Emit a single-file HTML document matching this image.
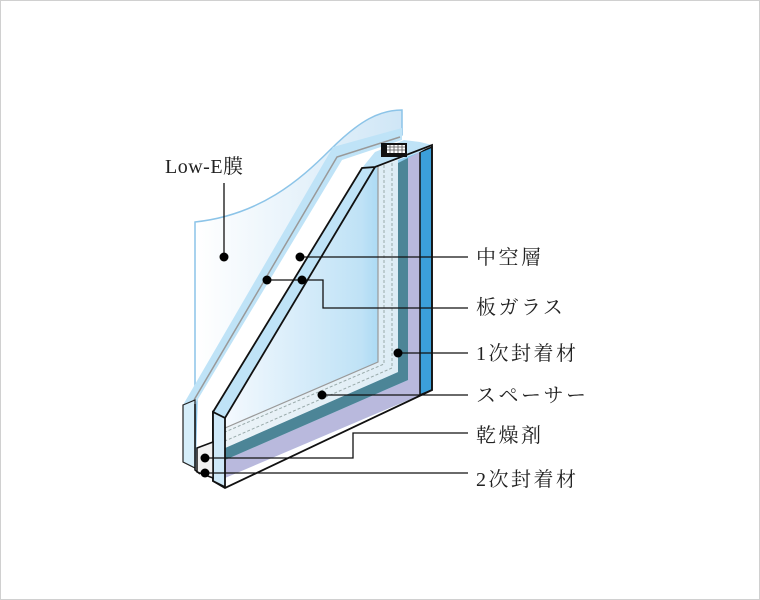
<!DOCTYPE html>
<html><head><meta charset="utf-8"><style>
body{margin:0;background:#fff}
.f{position:absolute;left:0;top:0;width:758px;height:598px;border:1px solid #d0d0d0}
svg{position:absolute;left:0;top:0}
text{font-family:"Liberation Serif","Noto Serif CJK SC",serif;font-size:20px;fill:#222;letter-spacing:2.5px}
</style></head><body>
<div class="f"></div>
<svg width="760" height="600" viewBox="0 0 760 600">
<defs>
<linearGradient id="g1" x1="0" y1="0" x2="1" y2="0"><stop offset="0" stop-color="#fff"/><stop offset="1" stop-color="#cfe6f6"/></linearGradient>
<linearGradient id="g2" x1="0" y1="0" x2="1" y2="0"><stop offset="0" stop-color="#f4f9fe"/><stop offset="0.7" stop-color="#bfe2f6"/><stop offset="1" stop-color="#7cc6ee"/></linearGradient>
</defs>
<path d="M195,222 C260,215 300,180 330,150 C360,120 380,110 402,110 L402,135 L340,155 L197,398 L195,470 Z" fill="url(#g1)" stroke="#8cc4e8" stroke-width="1.5"/>
<path d="M183,405 L333,147 L402,128 L402,140 L342,160 L195,404 Z" fill="#bfe3f7"/>
<path d="M194,400 L337,157 L400,137" fill="none" stroke="#999" stroke-width="1.5"/>
<path d="M183,405 L195,400 L195,468 L183,462 Z" fill="#d6eefa" stroke="#222" stroke-width="1.2"/>
<path d="M225,420 L375,168 L420,152 L420,395 L225,478 Z" fill="url(#g2)"/>
<path d="M408,158 L420,152 L420,395 L225,478 L225,460 L408,380 Z" fill="#b9b9dd"/>
<path d="M398,163 L408,158 L408,380 L225,460 L225,448 L398,372 Z" fill="#4c8597"/>
<path d="M378,165 L398,160 L398,372 L225,448 L225,428 L378,362 Z" fill="#e9f1f6" opacity="0.85"/>
<path d="M384,165 L384,364 L225,432 M392,163 L392,368 L225,441" fill="none" stroke="#9aa" stroke-width="1" stroke-dasharray="3,2"/>
<path d="M378,165 L378,362 L225,428" fill="none" stroke="#999" stroke-width="1.2"/>
<path d="M420,152 L432,147 L432,390 L420,395 Z" fill="#3b9fda" stroke="#111" stroke-width="1.5"/>
<path d="M362,168 L375,167 L420,152 L432,145 L420,142 L404,140 L375,152 Z" fill="#bfe3f7"/>
<path d="M213,412 L362,168 L375,168 L225,418 Z" fill="#bfe3f7"/>
<rect x="381" y="143" width="26" height="14" fill="#111"/>
<rect x="387" y="145" width="18" height="8" fill="#fff"/>
<path d="M387,147h18M387,150h18M390,145v8M394,145v8M398,145v8M402,145v8" stroke="#555" stroke-width="0.8"/>
<path d="M213,412 L362,168 L375,167 L432,145 L432,390 L225,488 L213,481 Z" fill="none" stroke="#111" stroke-width="1.8"/>
<path d="M213,412 L225,418 L375,167" fill="none" stroke="#111" stroke-width="1.8"/>
<path d="M213,412 L225,418 L225,487 L213,481 Z" fill="#cfe9f8" stroke="#111" stroke-width="1.8"/>
<path d="M197,448 L213,442 L213,478 L197,472 Z" fill="#f2f2f2" stroke="#111" stroke-width="1.5"/>
<path d="M195,404 L195,470 L200,474" fill="none" stroke="#111" stroke-width="1.5"/>
<g stroke="#111" stroke-width="1.3" fill="none">
<path d="M224,257 V183"/>
<path d="M300,257 H468"/>
<path d="M267,280 H323 V308 H468"/>
<path d="M398,353 H468"/>
<path d="M322,395 H468"/>
<path d="M205,458 H353 V433 H468"/>
<path d="M205,473 H468"/>
</g>
<g fill="#000">
<circle cx="224" cy="257" r="4.5"/><circle cx="300" cy="257" r="4.5"/>
<circle cx="267" cy="280" r="4.5"/><circle cx="302" cy="280" r="4.5"/>
<circle cx="398" cy="353" r="4.5"/><circle cx="322" cy="395" r="4.5"/>
<circle cx="205" cy="458" r="4.5"/><circle cx="205" cy="473" r="4.5"/>
</g>
<text x="165" y="173" style="letter-spacing:0.5px">Low-E膜</text>
<text x="476" y="264">中空層</text>
<text x="476" y="314">板ガラス</text>
<text x="476" y="360">1次封着材</text>
<text x="476" y="402">スペーサー</text>
<text x="476" y="442">乾燥剤</text>
<text x="476" y="486">2次封着材</text>
</svg>
</body></html>
